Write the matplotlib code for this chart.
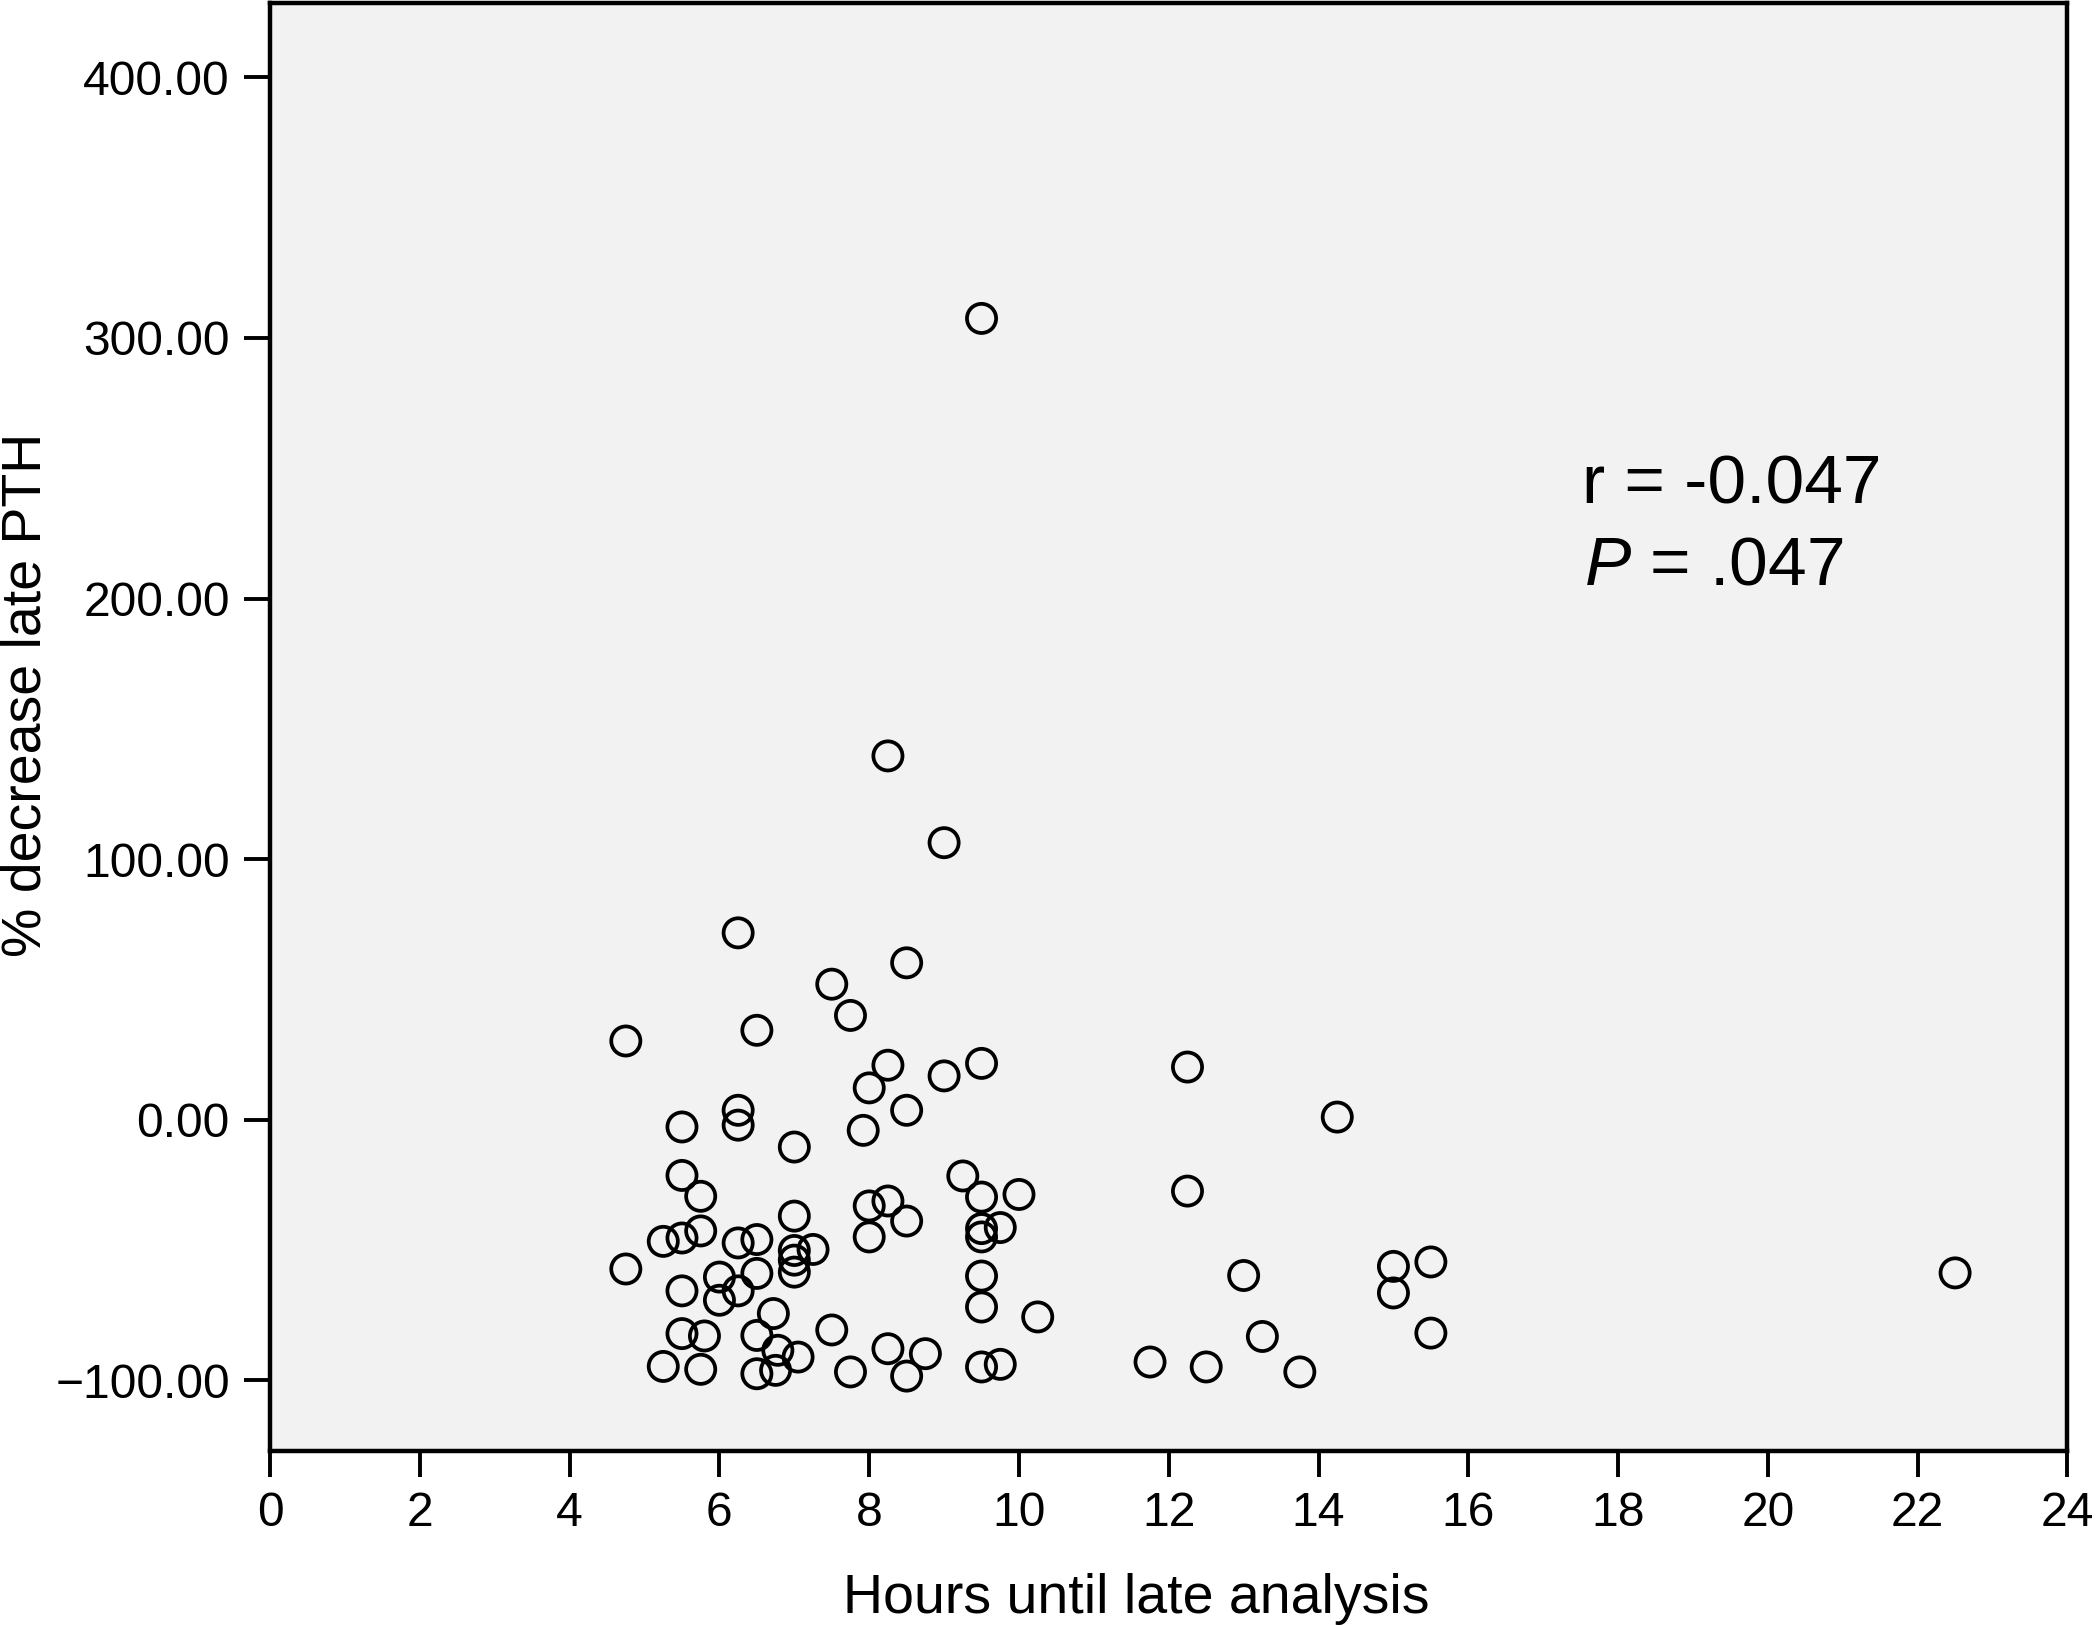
import matplotlib
matplotlib.use("Agg")
import matplotlib.pyplot as plt
from matplotlib.ticker import FuncFormatter

plt.rcParams["font.family"] = ["Liberation Sans", "DejaVu Sans"]
plt.rcParams["mathtext.fontset"] = "custom"
plt.rcParams["mathtext.it"] = "Liberation Sans:italic"
plt.rcParams["mathtext.rm"] = "Liberation Sans"

# hours until late analysis
hours = [
    4.75, 4.75, 5.25, 5.25, 5.5, 5.5, 5.5, 5.5, 5.5, 5.75,
    5.75, 5.8, 5.75, 6.0, 6.0, 6.25, 6.25, 6.25, 6.25, 6.25,
    6.5, 6.5, 6.5, 6.5, 6.5, 6.72, 6.78, 6.75, 7.0, 7.0,
    7.0, 7.0, 7.0, 7.05, 7.25, 7.5, 7.5, 7.75, 7.75, 7.92,
    8.0, 8.0, 8.0, 8.25, 8.25, 8.25, 8.25, 8.5, 8.5, 8.5,
    8.5, 8.75, 9.0, 9.0, 9.25, 9.5, 9.5, 9.5, 9.5, 9.5,
    9.5, 9.5, 9.5, 9.75, 9.75, 10.0, 10.25, 11.75, 12.25, 12.25,
    12.5, 13.0, 13.25, 13.75, 14.25, 15.0, 15.0, 15.5, 15.5, 22.5,
]

# % decrease late PTH
pct_decrease = [
    30.2, -57.3, -94.7, -46.7, -2.8, -21.4, -45.4, -65.7, -82.1, -29.4,
    -42.7, -83.0, -95.8, -60.4, -69.3, 71.7, 3.6, -2.1, -47.3, -65.7,
    34.3, -46.0, -59.0, -82.8, -97.5, -74.4, -88.5, -96.2, -10.5, -37.0,
    -50.2, -53.9, -58.5, -91.1, -49.8, 52.0, -80.7, 40.0, -96.8, -4.1,
    12.2, -33.1, -45.0, 139.6, 20.9, -31.2, -87.9, 60.2, 3.6, -38.9,
    -98.4, -89.8, 106.3, 16.8, -21.6, 307.5, 21.6, -29.7, -41.8, -45.0,
    -60.0, -71.9, -94.9, -93.9, -41.4, -28.7, -75.7, -93.0, 20.2, -27.4,
    -94.9, -59.8, -83.2, -96.8, 1.0, -56.3, -66.5, -54.6, -81.9, -58.8,
]

x_ticks = list(range(0, 25, 2))
y_ticks = [-100, 0, 100, 200, 300, 400]

fig = plt.figure(figsize=(10.485, 8.125), dpi=200)
ax = fig.add_axes([0.1288, 0.107, 0.8571, 0.8914])
ax.set_facecolor("#f2f2f2")

ax.scatter(hours, pct_decrease, s=110, facecolors="none", edgecolors="black",
           linewidths=1.35, zorder=3)

ax.set_xlim(0, 24)
ax.set_ylim(-127.2, 428.7)
ax.set_xticks(x_ticks)
ax.set_yticks(y_ticks)
ax.yaxis.set_major_formatter(
    FuncFormatter(lambda v, pos: f"{v:.2f}".replace("-", "\u2212")))
ax.tick_params(direction="out", length=9.5, width=1.4, labelsize=17.3,
               pad=5, colors="black")

for sp in ax.spines.values():
    sp.set_linewidth(1.6)

ax.set_xlabel("Hours until late analysis", fontsize=20)
ax.set_ylabel("% decrease late PTH", fontsize=20)
ax.xaxis.set_label_coords(0.482, -0.084)
ax.yaxis.set_label_coords(-0.121, 0.522)

ax.text(0.73, 0.654, "r = -0.047", transform=ax.transAxes, fontsize=25,
        va="baseline", ha="left")
ax.text(0.731, 0.598, "$\\it{P}$ = .047", transform=ax.transAxes,
        fontsize=25, va="baseline", ha="left")

fig.savefig("out.png", dpi=200)
